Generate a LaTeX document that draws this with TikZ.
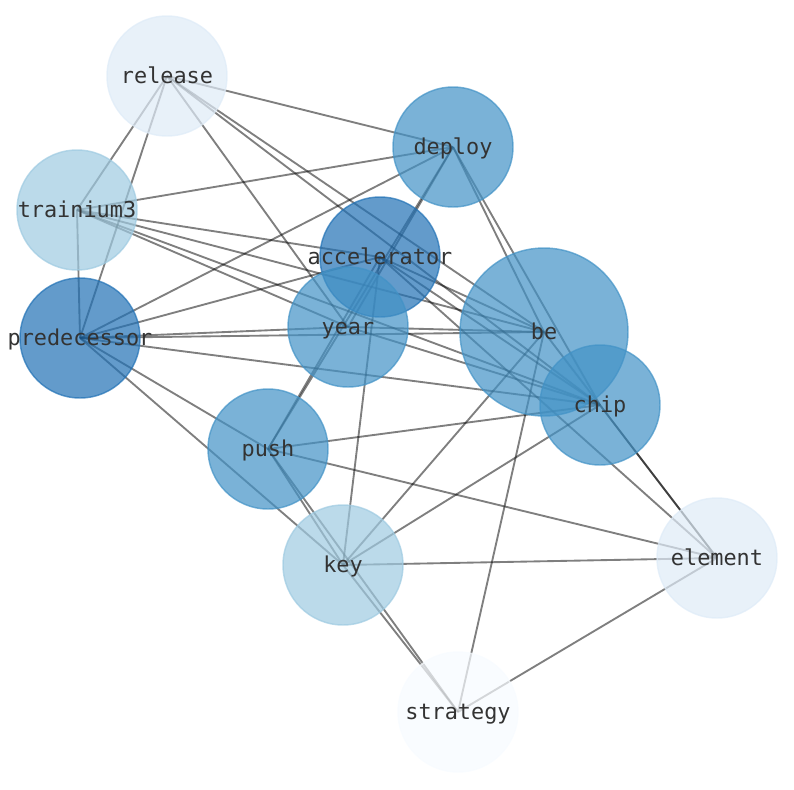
\documentclass[tikz,border=0pt]{standalone}
\usepackage{fontspec}
\newfontfamily\labfont{DejaVu Sans Mono}
\definecolor{bl0}{HTML}{F7FBFF}
\definecolor{bl1}{HTML}{DEEBF7}
\definecolor{bl3}{HTML}{9ECAE1}
\definecolor{bl5}{HTML}{4292C6}
\definecolor{bl6}{HTML}{2171B5}
\definecolor{labtext}{HTML}{333333}
\pgfdeclarelayer{edges}
\pgfsetlayers{edges,main}

\begin{document}
\begin{tikzpicture}[x=0.75pt,y=-0.75pt,
  kw/.style={circle,draw=#1,fill=#1,inner sep=0pt,minimum size=90pt,
    fill opacity=0.7,draw opacity=0.7,line width=1.1pt},
  wire/.style={black,draw opacity=0.5,line width=1.4pt},
  lab/.style={font=\labfont\fontsize{16.4}{18}\selectfont,text=labtext,inner sep=0pt,
    anchor=base,yshift=-5.6pt}]
\useasboundingbox (0,0) rectangle (794,790);
% keywords
\node[kw=bl1] (release) at (167,76) {};
\node[kw=bl5] (deploy) at (453,147) {};
\node[kw=bl3] (trainium3) at (77,210) {};
\node[kw=bl6] (accelerator) at (380,257) {};
\node[kw=bl6] (predecessor) at (80,338) {};
\node[kw=bl5] (year) at (348,327) {};
\node[kw=bl5,minimum size=126pt] (be) at (544,332) {};
\node[kw=bl5] (chip) at (600,405) {};
\node[kw=bl5] (push) at (268,449) {};
\node[kw=bl3] (key) at (343,565) {};
\node[kw=bl1] (element) at (717,558) {};
\node[kw=bl0] (strategy) at (458,712) {};
% co-occurrence links
\begin{pgfonlayer}{edges}
\foreach \a/\b in {release/deploy,release/trainium3,release/predecessor,release/year,
    release/be,release/chip,
    trainium3/deploy,trainium3/predecessor,trainium3/accelerator,trainium3/year,
    trainium3/be,trainium3/chip,
    predecessor/deploy,predecessor/accelerator,predecessor/year,predecessor/be,
    predecessor/chip,predecessor/push,predecessor/key,
    deploy/push,deploy/year,deploy/be,deploy/chip,
    accelerator/push,accelerator/key,accelerator/be,accelerator/chip,accelerator/element,
    year/be,year/chip,be/key,be/strategy,be/element,chip/element,chip/push,chip/key,
    push/key,push/element,push/strategy,key/element,key/strategy,element/strategy}
  \draw[wire] (\a.center) -- (\b.center);
\end{pgfonlayer}
% labels on top
\foreach \n in {release,deploy,trainium3,accelerator,predecessor,year,be,chip,push,key,element,strategy}
  \node[lab] (\n-t) at (\n) {\n};
\end{tikzpicture}
\end{document}
